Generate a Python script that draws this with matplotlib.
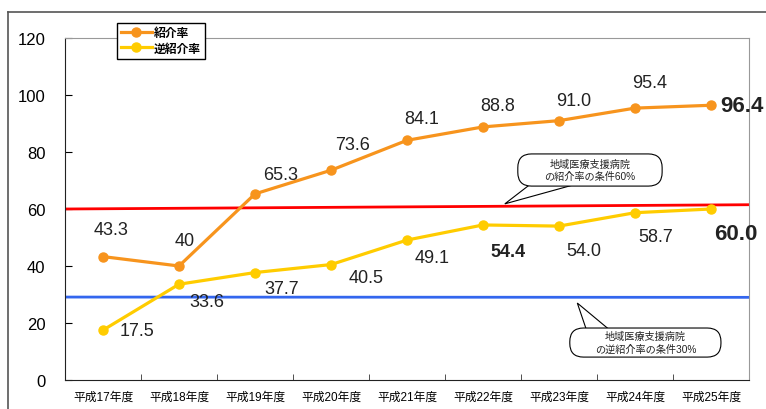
import matplotlib
matplotlib.use("Agg")
import matplotlib.pyplot as plt
from matplotlib.patches import FancyBboxPatch, Polygon
from matplotlib.lines import Line2D

plt.rcParams['font.family'] = ['Liberation Sans', 'Noto Sans CJK JP', 'DejaVu Sans']

years = ['平成17年度', '平成18年度', '平成19年度', '平成20年度', '平成21年度',
         '平成22年度', '平成23年度', '平成24年度', '平成25年度']
shokai = [43.3, 40, 65.3, 73.6, 84.1, 88.8, 91.0, 95.4, 96.4]
gyaku = [17.5, 33.6, 37.7, 40.5, 49.1, 54.4, 54.0, 58.7, 60.0]
shokai_lbl = ['43.3', '40', '65.3', '73.6', '84.1', '88.8', '91.0', '95.4', '96.4']
gyaku_lbl = ['17.5', '33.6', '37.7', '40.5', '49.1', '54.4', '54.0', '58.7', '60.0']
line60 = [60, 61.5]
line30 = [29.1, 29.0]

# label offsets in pixels (dx, dy) relative to the point
shokai_off = [(8, 27), (6, 25), (26, 19), (22, 26), (15, 22), (15, 21), (15, 20), (15, 26), (31, 0)]
gyaku_off = [(34, 0), (28, -17), (27, -16), (35, -13), (25, -17), (25, -27), (25, -24), (21, -24), (25, -24)]
shokai_bold = [False] * 8 + [True]
gyaku_bold = [False] * 5 + [True, False, False, True]
shokai_size = [13] * 8 + [16]
gyaku_size = [13] * 5 + [13, 13, 13, 16]

orange = '#F7941D'
yellow = '#FFCC00'

fig = plt.figure(figsize=(7.66, 4.10), dpi=100)
ax = fig.add_axes([65 / 766, 29 / 410, 684 / 766, 342 / 410])

x = list(range(len(years)))
n = len(years)
ax.plot([-0.5, n - 0.5], line60, color='#FF0000', lw=2, zorder=2)
ax.plot([-0.5, n - 0.5], line30, color='#3366EE', lw=2, zorder=2)
ax.plot(x, shokai, color=orange, lw=2.3, marker='o', ms=6.5, label='紹介率', zorder=3)
ax.plot(x, gyaku, color=yellow, lw=2.3, marker='o', ms=6.5, label='逆紹介率', zorder=3)

for i in x:
    dx, dy = shokai_off[i]
    ax.annotate(shokai_lbl[i], (i, shokai[i]), xytext=(dx, dy), textcoords='offset pixels',
                ha='center', va='center', fontsize=shokai_size[i],
                fontweight='bold' if shokai_bold[i] else 'normal', color='#222222', zorder=5)
    dx, dy = gyaku_off[i]
    ax.annotate(gyaku_lbl[i], (i, gyaku[i]), xytext=(dx, dy), textcoords='offset pixels',
                ha='center', va='center', fontsize=gyaku_size[i],
                fontweight='bold' if gyaku_bold[i] else 'normal', color='#222222', zorder=5)

ax.set_xlim(-0.5, n - 0.5)
ax.set_ylim(0, 120)
ax.set_yticks(range(0, 121, 20))
ax.set_xticks(x)
ax.set_xticklabels(years, fontsize=8.5)
ax.set_xticks([i + 0.5 for i in range(n - 1)], minor=True)
ax.tick_params(axis='x', which='major', length=0, pad=8)
ax.tick_params(axis='x', which='minor', direction='in', length=4, color='#333333')
ax.tick_params(axis='y', direction='in', length=5, labelsize=12, pad=14)
for s in ['top', 'right']:
    ax.spines[s].set_color('#999999')
for s in ['left', 'bottom']:
    ax.spines[s].set_color('#222222')

leg = ax.legend(loc='upper left', bbox_to_anchor=(0.076, 1.044), borderaxespad=0,
                fancybox=False, framealpha=1, edgecolor='black', fontsize=8.5,
                handlelength=2.6, handletextpad=0.2, borderpad=0.35, labelspacing=0.3,
                prop={'weight': 'bold', 'size': 8.5})
leg.get_frame().set_linewidth(1)
leg.set_zorder(10)


def callout(x0, x1, y0, y1, tip, b0, b1, text):
    poly = Polygon([tip, (b0, y0 + 0.005), (b1, y0 + 0.005)], closed=True, facecolor='white',
                   edgecolor='black', lw=0.8, transform=ax.transAxes, zorder=6, clip_on=False)
    ax.add_patch(poly)
    box = FancyBboxPatch((x0, y0), x1 - x0, y1 - y0, boxstyle='round,pad=0,rounding_size=0.02',
                         facecolor='white', edgecolor='black', lw=0.8,
                         transform=ax.transAxes, zorder=7, mutation_aspect=2)
    ax.add_patch(box)
    ax.text((x0 + x1) / 2, (y0 + y1) / 2, text, transform=ax.transAxes, ha='center', va='center',
            fontsize=7.3, linespacing=1.3, zorder=8, color='#222222')


callout(0.662, 0.873, 0.567, 0.661, (0.643, 0.515), 0.680, 0.746,
        '地域医療支援病院\nの紹介率の条件60%')
callout(0.738, 0.959, 0.067, 0.152, (0.749, 0.225), 0.775, 0.841,
        '地域医療支援病院\nの逆紹介率の条件30%')

# outer frame lines
fig.add_artist(Line2D([8 / 766, 1], [1 - 13 / 410, 1 - 13 / 410], color='#555555', lw=1.2))
fig.add_artist(Line2D([8 / 766, 8 / 766], [0, 1 - 13 / 410], color='#555555', lw=1.2))

fig.savefig('out.png', dpi=100)
